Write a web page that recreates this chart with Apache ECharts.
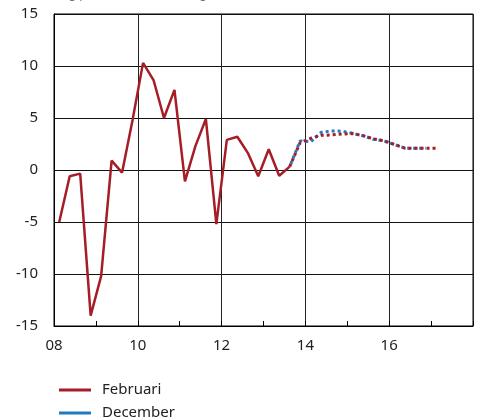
<!DOCTYPE html>
<html><head><meta charset="utf-8">
<script src="https://cdn.jsdelivr.net/npm/echarts@6/dist/echarts.min.js"></script>
<style>html,body{margin:0;padding:0;background:#fff}#c{width:478px;height:420px}</style>
</head><body><div id="c"></div>
<script>
// Quarters (year-quarter)
const histQuarters = ['2008Q1','2008Q2','2008Q3','2008Q4','2009Q1','2009Q2','2009Q3','2009Q4',
  '2010Q1','2010Q2','2010Q3','2010Q4','2011Q1','2011Q2','2011Q3','2011Q4',
  '2012Q1','2012Q2','2012Q3','2012Q4','2013Q1','2013Q2','2013Q3'];
const histFebruari = [-5.0,-0.6,-0.35,-14.0,-10.2,0.9,-0.25,4.8,
  10.3,8.65,5.0,7.7,-1.1,2.3,4.9,-5.2,
  2.9,3.2,1.65,-0.6,2.0,-0.55,0.32];
const fcQuartersFeb = ['2013Q3','2013Q4','2014Q1','2014Q2','2014Q3','2014Q4','2015Q1','2015Q2',
  '2015Q3','2015Q4','2016Q1','2016Q2','2016Q3','2016Q4','2017Q1'];
const fcFebruari = [0.32,2.63,3.05,3.33,3.37,3.46,3.5,3.3,3.0,2.8,2.45,2.1,2.1,2.1,2.1];
const fcQuartersDec = ['2013Q3','2013Q4','2014Q1','2014Q2','2014Q3','2014Q4','2015Q1','2015Q2',
  '2015Q3','2015Q4','2016Q1','2016Q2','2016Q3','2016Q4'];
const fcDecember = [0.32,2.8,2.72,3.62,3.75,3.73,3.53,3.3,2.95,2.8,2.45,2.1,2.1,2.1];
const yTicks = [-15,-10,-5,0,5,10,15];
const seriesNames = ['Februari','December'];
const titleText = 'Årlig procentuell förändring';

function qx(q){ const y = +q.slice(0,4), n = +q.slice(5); return y + (n - 0.5) / 4; }
function pairs(qs, vs){ return qs.map((q,i)=>[qx(q), vs[i]]); }

const RED = '#a51d26', BLUE = '#1f7bc1';
const FONT = '"Noto Sans", "Open Sans", sans-serif';
const chart = echarts.init(document.getElementById('c'), null, {renderer:'canvas'});
chart.setOption({
  animation:false,
  textStyle:{fontFamily:FONT},
  graphic:[{type:'text', left:50, top:-11, style:{text:titleText, fill:'#777', font:'12px '+FONT}}],
  grid:{left:54, right:5, top:14, bottom:94, show:true, borderColor:'#000', borderWidth:1},
  xAxis:{type:'value', min:2008, max:2018, interval:2,
    axisLine:{show:true, onZero:false, lineStyle:{color:'#000', width:1}},
    axisTick:{show:true, inside:true, length:5, lineStyle:{color:'#000'}},
    minorTick:{show:true, splitNumber:2, length:5, lineStyle:{color:'#000'}},
    splitLine:{show:true, lineStyle:{color:'#222', width:1}},
    axisLabel:{color:'#222', fontSize:15, margin:12, fontFamily:FONT,
      formatter:v=> v >= 2018 ? '' : String(v).slice(2)}},
  yAxis:{type:'value', min:yTicks[0], max:yTicks[yTicks.length-1], interval:5,
    axisLine:{show:true, lineStyle:{color:'#000', width:1}},
    axisTick:{show:false},
    splitLine:{show:true, lineStyle:{color:'#111', width:1}},
    axisLabel:{color:'#222', fontSize:15, margin:16, fontFamily:FONT}},
  legend:{orient:'vertical', left:54, top:377, height:60, itemWidth:32, itemHeight:3, itemGap:7,
    icon:'rect', data:seriesNames,
    textStyle:{fontSize:15, color:'#222', fontFamily:FONT, padding:[0,0,0,6], lineHeight:16}},
  series:[
    {name:seriesNames[1], type:'line', data:pairs(fcQuartersDec, fcDecember), showSymbol:false,
      color:BLUE, lineStyle:{color:BLUE, width:3, type:[3,3], dashOffset:3, cap:'butt'}},
    {name:seriesNames[0], type:'line', data:pairs(fcQuartersFeb, fcFebruari), showSymbol:false,
      color:RED, lineStyle:{color:RED, width:3, type:[3,3], dashOffset:0, cap:'butt'}},
    {name:seriesNames[0], type:'line', data:pairs(histQuarters, histFebruari), showSymbol:false,
      color:RED, lineStyle:{color:RED, width:2.5, type:'solid'}}
  ]
});
</script></body></html>
